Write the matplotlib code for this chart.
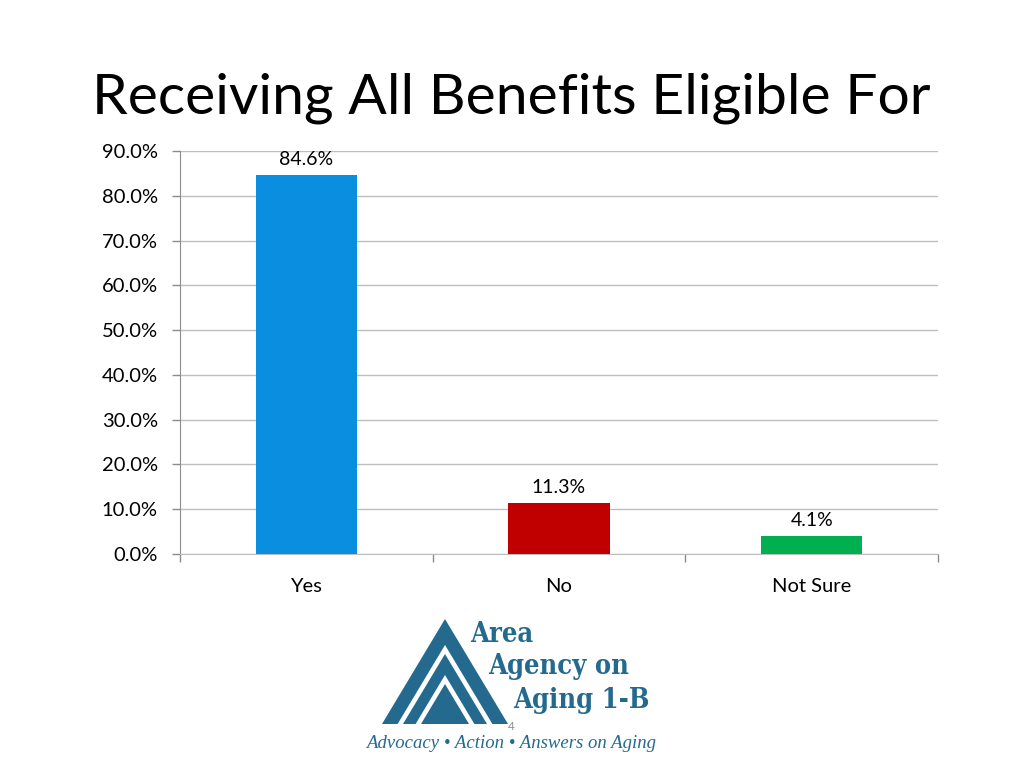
import matplotlib
matplotlib.use("Agg")
import matplotlib.pyplot as plt
from matplotlib.patches import Polygon

# data
categories = ["Yes", "No", "Not Sure"]
shares = [84.6, 11.3, 4.1]
bar_colors = ["#0A8EE0", "#C00000", "#00B050"]
y_ticks = [0, 10, 20, 30, 40, 50, 60, 70, 80, 90]

plt.rcParams["font.family"] = ["Lato", "DejaVu Sans"]

W, H = 1024, 768
fig = plt.figure(figsize=(W / 100, H / 100), dpi=100)
fig.patch.set_facecolor("white")

fig.text(511 / W, 1 - 98 / H, "Receiving All Benefits Eligible For",
         ha="center", va="center", fontsize=41, color="black")

ax = fig.add_axes([180 / W, 1 - 554 / H, 758 / W, 403 / H])
xs = [i + 0.5 for i in range(len(categories))]
bars = ax.bar(xs, shares, width=0.4, color=bar_colors, zorder=3)
for b, v in zip(bars, shares):
    ax.annotate(f"{v:.1f}%", (b.get_x() + b.get_width() / 2, v),
                xytext=(0, 5), textcoords="offset points",
                ha="center", va="bottom", fontsize=14)

ax.set_xlim(0, len(categories))
ax.set_ylim(0, 90)
ax.set_yticks(y_ticks)
ax.set_yticklabels([f"{t:.1f}%" for t in y_ticks], fontsize=14.5)
ax.yaxis.grid(True, color="#BEBEBE", linewidth=1)
ax.set_axisbelow(True)
ax.tick_params(axis="y", length=6, width=1, color="#8C8C8C", pad=10)

ax.set_xticks(xs)
ax.set_xticklabels(categories, fontsize=14.5)
ax.set_xticks(range(len(categories) + 1), minor=True)
ax.tick_params(axis="x", which="major", length=0, pad=17)
ax.tick_params(axis="x", which="minor", length=6, width=1, color="#8C8C8C")

for s in ["top", "right"]:
    ax.spines[s].set_visible(False)
ax.spines["left"].set_color("#8C8C8C")
ax.spines["bottom"].set_color("#BEBEBE")

# logo: nested triangles + text
logo = "#246A8E"
cx, base = 445, 724
for h, col in [(105, logo), (79, "white"), (70, logo), (49, "white"), (40, logo)]:
    hw = h * 0.6
    pts = [((cx - hw) / W, 1 - base / H), ((cx + hw) / W, 1 - base / H),
           (cx / W, 1 - (base - h) / H)]
    fig.add_artist(Polygon(pts, closed=True, transform=fig.transFigure,
                           facecolor=col, edgecolor="none"))

serif = ["DejaVu Serif", "Liberation Serif"]
for txt, x0, yc in [("Area", 470, 634), ("Agency on", 488, 667), ("Aging 1-B", 513, 701)]:
    fig.text(x0 / W, 1 - yc / H, txt, ha="left", va="center", fontsize=19.5,
             fontweight="bold", fontstretch="condensed", family=serif, color=logo)
fig.text(511 / W, 1 - 743 / H, "Advocacy \u2022 Action \u2022 Answers on Aging",
         ha="center", va="center", fontsize=13.5, style="italic",
         family=["Liberation Serif", "DejaVu Serif"], color=logo)
fig.text(511 / W, 1 - 727 / H, "4", ha="center", va="center", fontsize=8.5,
         color="#8A8A8A")

fig.savefig("out.png", dpi=100)
